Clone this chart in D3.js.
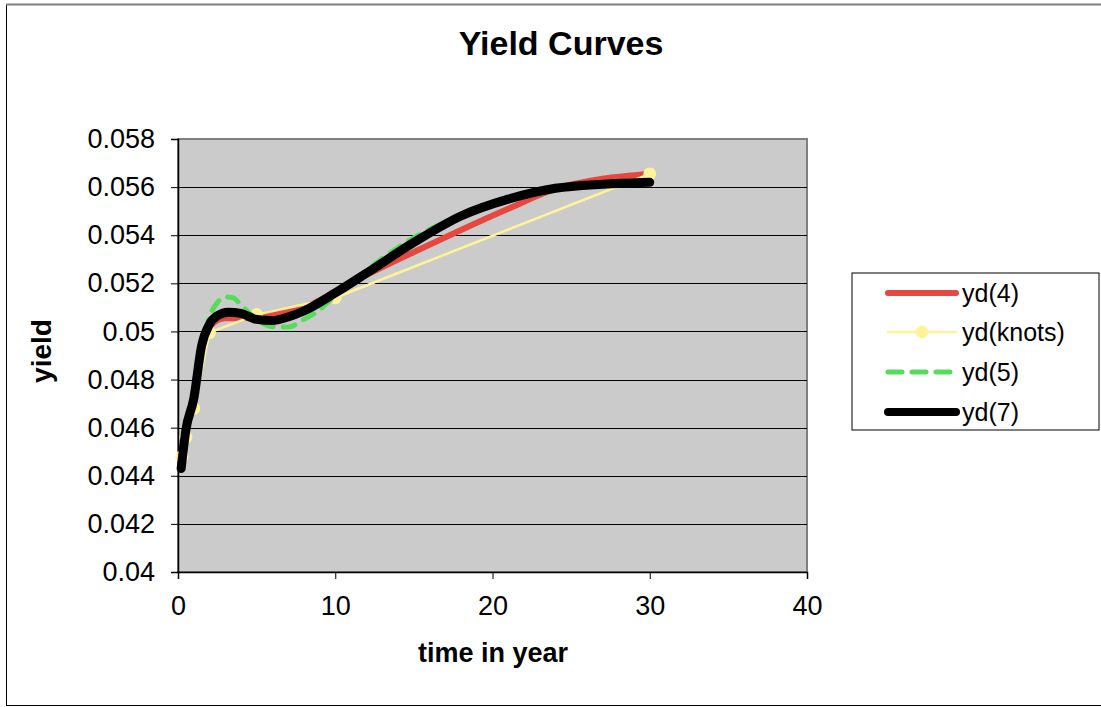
<!DOCTYPE html>
<html>
<head>
<meta charset="utf-8">
<script src="https://cdn.jsdelivr.net/npm/d3@7"></script>
<style>
  body { margin: 0; background: #fff; }
  svg text { font-family: "Liberation Sans", Arial, sans-serif; }
</style>
</head>
<body>
<div id="chart"></div>
<script>
// knots of the yield curve (time in years, yield)
var knotT = [0.25, 0.5, 1, 2, 5, 10, 30];
var knotY = [0.0448, 0.0456, 0.0468, 0.04995, 0.0507, 0.0514, 0.05655];

// yd(4)
var yd4T = [0.25, 0.5, 1, 1.5, 2, 3, 4, 5, 6, 7, 8, 10, 12, 15, 18, 21, 24, 27, 30];
var yd4Y = [0.0444, 0.0458, 0.0471, 0.0493, 0.0502, 0.05055, 0.05055, 0.0506, 0.0507, 0.05085, 0.0510, 0.05165, 0.05235, 0.0533, 0.05422, 0.0551, 0.05593, 0.05635, 0.05655];

// yd(5)
var yd5T = [0.25, 0.5, 1, 1.5, 2, 2.5, 3, 3.5, 4, 5, 6, 7, 8, 9, 10, 12, 15, 18, 21, 24, 27, 30];
var yd5Y = [0.0446, 0.0459, 0.0473, 0.0493, 0.0506, 0.0512, 0.05143, 0.0514, 0.0511, 0.0505, 0.0502, 0.05018, 0.0505, 0.0509, 0.0515, 0.05255, 0.0539, 0.0548, 0.0555, 0.0559, 0.0561, 0.0562];

// yd(7)
var yd7T = [0.2, 0.5, 1, 1.5, 2, 2.5, 3.2, 4, 5, 6, 7, 8, 10, 12, 15, 18, 21, 24, 27, 30];
var yd7Y = [0.0443, 0.0459, 0.0472, 0.0494, 0.0503, 0.05065, 0.0508, 0.05075, 0.0505, 0.05045, 0.0506, 0.05085, 0.0516, 0.05243, 0.0537, 0.0548, 0.0555, 0.05595, 0.05612, 0.0562];

var xTicks = [0, 10, 20, 30, 40];
var yTicks = [0.04, 0.042, 0.044, 0.046, 0.048, 0.05, 0.052, 0.054, 0.056, 0.058];

var seriesNames = ["yd(4)", "yd(knots)", "yd(5)", "yd(7)"];

var width = 1101, height = 707;
var plotLeft = 178, plotRight = 807, plotTop = 139, plotBottom = 572;

var svg = d3.select("#chart").append("svg")
    .attr("width", width)
    .attr("height", height);

// outer frame
svg.append("rect")
    .attr("x", 6.5).attr("y", 4.5)
    .attr("width", 1100).attr("height", 701)
    .attr("fill", "#fff")
    .attr("stroke", "#000")
    .attr("stroke-width", 1);
svg.append("line")
    .attr("x1", 6).attr("x2", 1101).attr("y1", 4.5).attr("y2", 4.5)
    .attr("stroke", "#808080").attr("stroke-width", 2);

var x = d3.scaleLinear().domain([0, 40]).range([plotLeft, plotRight]);
var y = d3.scaleLinear().domain([0.04, 0.058]).range([plotBottom, plotTop]);

// plot area
svg.append("rect")
    .attr("x", plotLeft).attr("y", plotTop)
    .attr("width", plotRight - plotLeft).attr("height", plotBottom - plotTop)
    .attr("fill", "#cbcbcb")
    .attr("stroke", "#808080")
    .attr("stroke-width", 2);

// gridlines
svg.append("g").selectAll("line")
    .data(yTicks.slice(1, -1))
    .enter().append("line")
    .attr("x1", plotLeft).attr("x2", plotRight)
    .attr("y1", function (d) { return Math.round(y(d)) + 0.5; })
    .attr("y2", function (d) { return Math.round(y(d)) + 0.5; })
    .attr("stroke", "#000")
    .attr("stroke-width", 1.2);

// axes
var xAxis = d3.axisBottom(x).tickValues(xTicks).tickSize(7).tickPadding(17)
    .tickFormat(d3.format("d"));
var gx = svg.append("g")
    .attr("transform", "translate(0," + plotBottom + ")")
    .call(xAxis);
gx.selectAll("text").attr("font-size", 27).attr("fill", "#000")
    .attr("font-family", "Liberation Sans, Arial, sans-serif");

var yAxis = d3.axisLeft(y).tickValues(yTicks).tickSize(7).tickPadding(16)
    .tickFormat(function (d) { return String(+d.toFixed(3)); });
var gy = svg.append("g")
    .attr("transform", "translate(" + plotLeft + ",0)")
    .call(yAxis);
gy.selectAll("text").attr("font-size", 27).attr("fill", "#000")
    .attr("font-family", "Liberation Sans, Arial, sans-serif");

[gx, gy].forEach(function (g) {
    g.select(".domain").attr("stroke", "#000").attr("stroke-width", 1.5);
    g.selectAll(".tick line").attr("stroke", "#000");
});

// titles
svg.append("text")
    .attr("x", 561).attr("y", 55)
    .attr("text-anchor", "middle")
    .attr("font-size", 34).attr("font-weight", "bold")
    .text("Yield Curves");

svg.append("text")
    .attr("x", 493).attr("y", 662)
    .attr("text-anchor", "middle")
    .attr("font-size", 27).attr("font-weight", "bold")
    .text("time in year");

svg.append("text")
    .attr("transform", "translate(51,351) rotate(-90)")
    .attr("text-anchor", "middle")
    .attr("font-size", 28).attr("font-weight", "bold")
    .text("yield");

function pts(ts, ys) {
    return ts.map(function (t, i) { return [t, ys[i]]; });
}

var smooth = d3.line()
    .x(function (d) { return x(d[0]); })
    .y(function (d) { return y(d[1]); })
    .curve(d3.curveMonotoneX);

var straight = d3.line()
    .x(function (d) { return x(d[0]); })
    .y(function (d) { return y(d[1]); });

var plot = svg.append("g");

// yd(4)
plot.append("path")
    .attr("d", smooth(pts(yd4T, yd4Y)))
    .attr("fill", "none").attr("stroke", "#e8473f")
    .attr("stroke-width", 6).attr("stroke-linecap", "round");

// yd(knots)
plot.append("path")
    .attr("d", straight(pts(knotT, knotY)))
    .attr("fill", "none").attr("stroke", "#fff39a")
    .attr("stroke-width", 2.5);
plot.selectAll("circle")
    .data(pts(knotT, knotY))
    .enter().append("circle")
    .attr("cx", function (d) { return x(d[0]); })
    .attr("cy", function (d) { return y(d[1]); })
    .attr("r", 6.5)
    .attr("fill", "#fff39a");

// yd(5)
plot.append("path")
    .attr("d", smooth(pts(yd5T, yd5Y)))
    .attr("fill", "none").attr("stroke", "#55dd5a")
    .attr("stroke-width", 5).attr("stroke-dasharray", "12,10")
    .attr("stroke-linecap", "round");

// yd(7)
plot.append("path")
    .attr("d", smooth(pts(yd7T, yd7Y)))
    .attr("fill", "none").attr("stroke", "#000")
    .attr("stroke-width", 9).attr("stroke-linecap", "round");

// legend
var lg = svg.append("g");
lg.append("rect")
    .attr("x", 852).attr("y", 273)
    .attr("width", 247).attr("height", 157)
    .attr("fill", "#fff").attr("stroke", "#000").attr("stroke-width", 1);

var legendY = [293, 332, 372, 412];
var styles = [
    { color: "#e8473f", w: 6, dash: null },
    { color: "#fff39a", w: 2.5, dash: null },
    { color: "#55dd5a", w: 5, dash: "14,10" },
    { color: "#000", w: 8, dash: null }
];
seriesNames.forEach(function (name, i) {
    var s = styles[i];
    lg.append("line")
        .attr("x1", 888).attr("x2", 956)
        .attr("y1", legendY[i]).attr("y2", legendY[i])
        .attr("stroke", s.color).attr("stroke-width", s.w)
        .attr("stroke-linecap", "round")
        .attr("stroke-dasharray", s.dash);
    if (i === 1) {
        lg.append("circle").attr("cx", 922).attr("cy", legendY[i])
            .attr("r", 6.5).attr("fill", s.color);
    }
    lg.append("text")
        .attr("x", 962).attr("y", legendY[i] + 9)
        .attr("font-size", 25)
        .text(name);
});
</script>
</body>
</html>
